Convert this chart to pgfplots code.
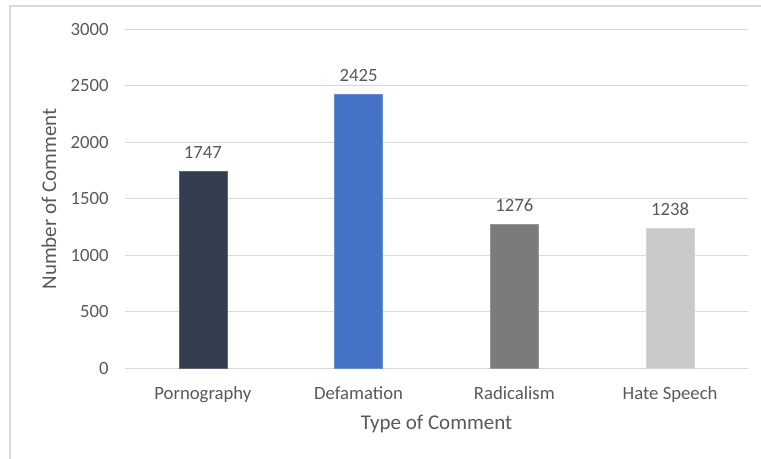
\documentclass[border=0pt]{standalone}
\usepackage{pgfplots}
\pgfplotsset{compat=1.18}
\usepackage{fontspec}
\setmainfont{Carlito}
\definecolor{txt}{HTML}{595959}
\definecolor{grid}{HTML}{D9D9D9}
\definecolor{cA}{HTML}{333F50}
\definecolor{cB}{HTML}{4472C4}
\definecolor{cC}{HTML}{7B7B7B}
\definecolor{cD}{HTML}{C9C9C9}
\begin{document}
\begin{tikzpicture}
\useasboundingbox (0,0) rectangle (761bp,459bp);
\draw[color=grid, line width=1.5bp] (10bp,-5bp) -- (10bp,453bp) -- (775bp,453bp);
\begin{axis}[
  at={(125bp,90.7bp)}, anchor=south west,
  scale only axis, width=623bp, height=339bp,
  xmin=-0.5, xmax=3.5, ymin=0, ymax=3000,
  ytick={0,500,...,3000},
  xtick={0,1,2,3},
  xticklabels={Pornography, Defamation, Radicalism, Hate Speech},
  axis line style={draw=none},
  major tick length=0pt,
  ymajorgrids, grid style={color=grid, line width=1.2bp},
  tick label style={font=\fontsize{18.7bp}{22bp}\selectfont, text=txt},
  yticklabel style={xshift=-13bp},
  xticklabel style={yshift=-15bp},
  /pgf/number format/assume math mode=true,
  /pgf/number format/set thousands separator={},
  xlabel={Type of Comment}, ylabel={Number of Comment},
  every axis x label/.style={at={(axis description cs:0.5,-0.164)}, anchor=center, font=\fontsize{21bp}{25bp}\selectfont, text=txt},
  every axis y label/.style={at={(axis description cs:-0.122,0.5)}, rotate=90, anchor=center, font=\fontsize{21bp}{25bp}\selectfont, text=txt},
  ybar, bar width=48bp, bar shift=0pt,
  nodes near coords,
  every node near coord/.style={font=\fontsize{18.7bp}{22bp}\selectfont, text=txt, anchor=south, yshift=9bp},
  /pgf/number format/.cd, fixed, precision=0,
]
\addplot[fill=cA, draw=cA!80!white] coordinates {(0,1747)};
\addplot[fill=cB, draw=cB!80!white] coordinates {(1,2425)};
\addplot[fill=cC, draw=cC!80!white] coordinates {(2,1276)};
\addplot[fill=cD, draw=cD!80!white] coordinates {(3,1238)};
\end{axis}
\end{tikzpicture}
\end{document}
